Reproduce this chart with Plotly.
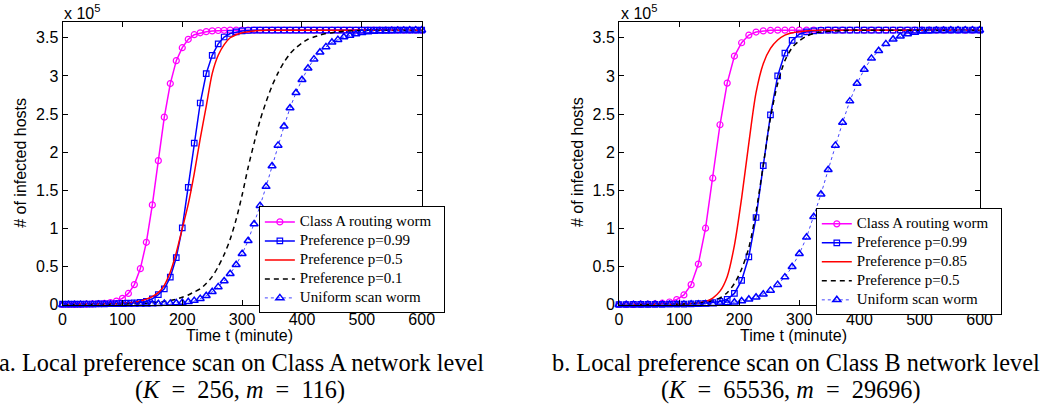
import plotly.graph_objects as go

W, H = 1063, 412

# ---------------- data (values in units of 10^5 hosts) ----------------
t_a = list(range(0, 601, 10))   # left panel, markers every 10 minutes
t_b = list(range(0, 601, 12))   # right panel, markers every 12 minutes

names_a = ["Class A routing worm", "Preference p=0.99", "Preference p=0.5",
           "Preference p=0.1", "Uniform scan worm"]
names_b = ["Class A routing worm", "Preference p=0.99", "Preference p=0.85",
           "Preference p=0.5", "Uniform scan worm"]

classA_a = [0.005, 0.006, 0.007, 0.008, 0.010, 0.013, 0.016, 0.020, 0.030, 0.050,
            0.085, 0.15, 0.266, 0.475, 0.82, 1.31, 1.89, 2.46, 2.90, 3.20,
            3.37, 3.48, 3.54, 3.565, 3.58, 3.59, 3.595, 3.598] + [3.6] * 33
p099_a = [0.010, 0.010, 0.011, 0.011, 0.012, 0.012, 0.013, 0.014, 0.015, 0.017,
          0.019, 0.022, 0.026, 0.032, 0.045, 0.080, 0.135, 0.21, 0.364, 0.62,
          1.01, 1.54, 2.12, 2.645, 3.03, 3.27, 3.42, 3.51, 3.556, 3.578,
          3.59, 3.595] + [3.6] * 29
p05_a = [0.005, 0.006, 0.007, 0.008, 0.009, 0.010, 0.011, 0.012, 0.014, 0.016,
         0.020, 0.027, 0.036, 0.050, 0.075, 0.108, 0.16, 0.257, 0.43, 0.685,
         1.0, 1.32, 1.72, 2.18, 2.60, 3.03, 3.27, 3.41, 3.50, 3.54,
         3.565, 3.58, 3.59, 3.595] + [3.6] * 27
p01_a = [0.002, 0.002, 0.003, 0.003, 0.004, 0.004, 0.005, 0.006, 0.007, 0.008,
         0.010, 0.012, 0.015, 0.018, 0.022, 0.028, 0.035, 0.045, 0.057, 0.075,
         0.10, 0.13, 0.17, 0.21, 0.28, 0.37, 0.50, 0.66, 0.86, 1.12,
         1.44, 1.80, 2.12, 2.42, 2.66, 2.87, 3.04, 3.18, 3.29, 3.37,
         3.43, 3.48, 3.51, 3.535, 3.555, 3.567, 3.577, 3.585, 3.59, 3.595,
         3.597] + [3.6] * 10
uni_a = [0.002, 0.002, 0.002, 0.003, 0.003, 0.003, 0.004, 0.004, 0.005, 0.005,
         0.006, 0.007, 0.008, 0.009, 0.010, 0.012, 0.014, 0.017, 0.020, 0.024,
         0.030, 0.040, 0.056, 0.082, 0.12, 0.172, 0.236, 0.313, 0.407, 0.526,
         0.67, 0.84, 1.06, 1.30, 1.55, 1.82, 2.09, 2.34, 2.58, 2.78,
         2.95, 3.10, 3.22, 3.31, 3.38, 3.44, 3.475, 3.51, 3.53, 3.55,
         3.565, 3.575, 3.582, 3.587, 3.59, 3.593, 3.595, 3.597, 3.598, 3.6, 3.6]

classA_b = [0.005, 0.006, 0.007, 0.009, 0.011, 0.015, 0.022, 0.038, 0.070, 0.13,
            0.265, 0.535, 1.005, 1.66, 2.36, 2.906, 3.26, 3.435, 3.535, 3.575,
            3.59, 3.597] + [3.6] * 29
p099_b = [0.005, 0.005, 0.006, 0.006, 0.007, 0.007, 0.008, 0.009, 0.010, 0.011,
          0.013, 0.016, 0.021, 0.030, 0.045, 0.073, 0.15, 0.32, 0.63, 1.145,
          1.825, 2.49, 3.0, 3.30, 3.465, 3.547, 3.578, 3.59, 3.597] + [3.6] * 22
p085_b = [0.004, 0.004, 0.005, 0.005, 0.006, 0.007, 0.008, 0.009, 0.011, 0.014,
          0.018, 0.025, 0.045, 0.09, 0.18, 0.37, 0.78, 1.40, 2.12, 2.78,
          3.16, 3.36, 3.47, 3.535, 3.565, 3.58, 3.59, 3.595] + [3.6] * 23
p05_b = [0.003, 0.003, 0.004, 0.004, 0.005, 0.006, 0.007, 0.008, 0.010, 0.013,
         0.017, 0.024, 0.035, 0.055, 0.09, 0.16, 0.28, 0.47, 0.75, 1.22,
         1.83, 2.45, 2.90, 3.20, 3.37, 3.46, 3.52, 3.555, 3.575, 3.585,
         3.59, 3.595] + [3.6] * 19
uni_b = [0.002, 0.002, 0.003, 0.003, 0.003, 0.004, 0.004, 0.005, 0.006, 0.007,
         0.008, 0.009, 0.011, 0.013, 0.017, 0.024, 0.035, 0.050, 0.073, 0.10,
         0.14, 0.19, 0.265, 0.364, 0.50, 0.67, 0.885, 1.155, 1.45, 1.77,
         2.09, 2.39, 2.67, 2.90, 3.085, 3.23, 3.33, 3.42, 3.48, 3.52,
         3.55, 3.57, 3.585, 3.59, 3.594, 3.596, 3.598, 3.6, 3.6, 3.6, 3.6]

x_ticks = [0, 100, 200, 300, 400, 500, 600]
y_ticks = [0, 0.5, 1, 1.5, 2, 2.5, 3, 3.5]
y_tick_text = ["0", "0.5", "1", "1.5", "2", "2.5", "3", "3.5"]

captions = [("a. Local preference scan on Class A network level",
             "(<i>K</i>&nbsp; =&nbsp; 256, <i>m</i>&nbsp; =&nbsp; 116)"),
            ("b. Local preference scan on Class B network level",
             "(<i>K</i>&nbsp; =&nbsp; 65536, <i>m</i>&nbsp; =&nbsp; 29696)")]

# ---------------- figure ----------------
SANS = "Liberation Sans, Arial, Helvetica, sans-serif"
SERIF = "Liberation Serif, Times New Roman, serif"

styles = [
    dict(mode="lines+markers", line=dict(color="#FF00FF", width=1.5),
         marker=dict(symbol="circle-open", size=6, color="#FF00FF", line=dict(width=1.2, color="#FF00FF"))),
    dict(mode="lines+markers", line=dict(color="#0000FF", width=1.5),
         marker=dict(symbol="square-open", size=5.5, color="#0000FF", line=dict(width=1.2, color="#0000FF"))),
    dict(mode="lines", line=dict(color="#FF0000", width=1.5, shape="spline", smoothing=0.8)),
    dict(mode="lines", line=dict(color="black", width=1.5, dash="5px,4px", shape="spline", smoothing=0.8)),
    dict(mode="lines+markers", line=dict(color="#4444FF", width=1, dash="dot"),
         marker=dict(symbol="triangle-up-open", size=7, color="#0000FF", line=dict(width=1.5, color="#0000FF"))),
]

fig = go.Figure()

panels = [
    (t_a, [classA_a, p099_a, p05_a, p01_a, uni_a], names_a, "x", "y", "legend"),
    (t_b, [classA_b, p099_b, p085_b, p05_b, uni_b], names_b, "x2", "y2", "legend2"),
]
for tt, series, names, xa, ya, lg in panels:
    for vals, nm, st in zip(series, names, styles):
        fig.add_trace(go.Scatter(
            x=tt, y=vals, name='<span style="font-size:15px">' + nm + "&nbsp;&nbsp;</span>",
            xaxis=xa, yaxis=ya, legend=lg, cliponaxis=False, **st))

def xdom(a, b):
    return [a / W, b / W]

ydom = [1 - 311.7 / H, 1 - 23 / H]

axis_common = dict(showline=True, linecolor="black", linewidth=1, mirror="ticks",
                   ticks="inside", ticklen=5, tickcolor="black", tickwidth=1,
                   showgrid=False, zeroline=False,
                   tickfont=dict(family=SANS, size=16, color="black"))

legend_common = dict(xanchor="left", yanchor="top", bgcolor="white", bordercolor="black",
                     borderwidth=1, font=dict(family=SERIF, size=11.2, color="black"),
                     itemwidth=30, tracegroupgap=0)

fig.update_layout(
    width=W, height=H,
    margin=dict(l=0, r=0, t=0, b=0),
    paper_bgcolor="white", plot_bgcolor="white",
    showlegend=True,
    xaxis=dict(domain=xdom(59.5, 424.5), range=[0, 600], tickvals=x_ticks, anchor="y", **axis_common),
    yaxis=dict(domain=ydom, range=[0, 3.7], tickvals=y_ticks, ticktext=y_tick_text, anchor="x", **axis_common),
    xaxis2=dict(domain=xdom(625, 991.5), range=[0, 600], tickvals=x_ticks, anchor="y2", **axis_common),
    yaxis2=dict(domain=ydom, range=[0, 3.7], tickvals=y_ticks, ticktext=y_tick_text, anchor="x2", **axis_common),
    legend=dict(x=259 / W, y=1 - 211 / H, **legend_common),
    legend2=dict(x=825 / W, y=1 - 213 / H, **legend_common),
)

ann = []
for xc_ylab, xc_xlab, x_exp, xc1, xc2, (cap1, cap2) in [
        (16.7, 239, 59, 241, 240, captions[0]),
        (583, 802, 625, 805, 800, captions[1])]:
    ann.append(dict(text="# of infected hosts", x=xc_ylab / W, y=1 - 166 / H, xref="paper", yref="paper",
                    textangle=-90, showarrow=False, xanchor="center", yanchor="middle",
                    font=dict(family=SANS, size=16, color="black")))
    ann.append(dict(text="Time t (minute)", x=xc_xlab / W, y=1 - 343 / H, xref="paper", yref="paper",
                    showarrow=False, xanchor="center", yanchor="middle",
                    font=dict(family=SANS, size=16, color="black")))
    ann.append(dict(text="x 10<sup>5</sup>", x=x_exp / W, y=1 - 12 / H, xref="paper", yref="paper",
                    showarrow=False, xanchor="left", yanchor="middle",
                    font=dict(family=SANS, size=16, color="black")))
    ann.append(dict(text=cap1, x=xc1 / W, y=1 - 371 / H, xref="paper", yref="paper",
                    showarrow=False, xanchor="center", yanchor="middle",
                    font=dict(family=SERIF, size=24.3, color="black")))
    ann.append(dict(text=cap2, x=xc2 / W, y=1 - 399 / H, xref="paper", yref="paper",
                    showarrow=False, xanchor="center", yanchor="middle",
                    font=dict(family=SERIF, size=24.3, color="black")))
fig.update_layout(annotations=ann)

fig.write_html("out.html",
               config={"displayModeBar": False},
               post_script="document.body.style.margin='0';document.body.style.overflow='hidden';")
